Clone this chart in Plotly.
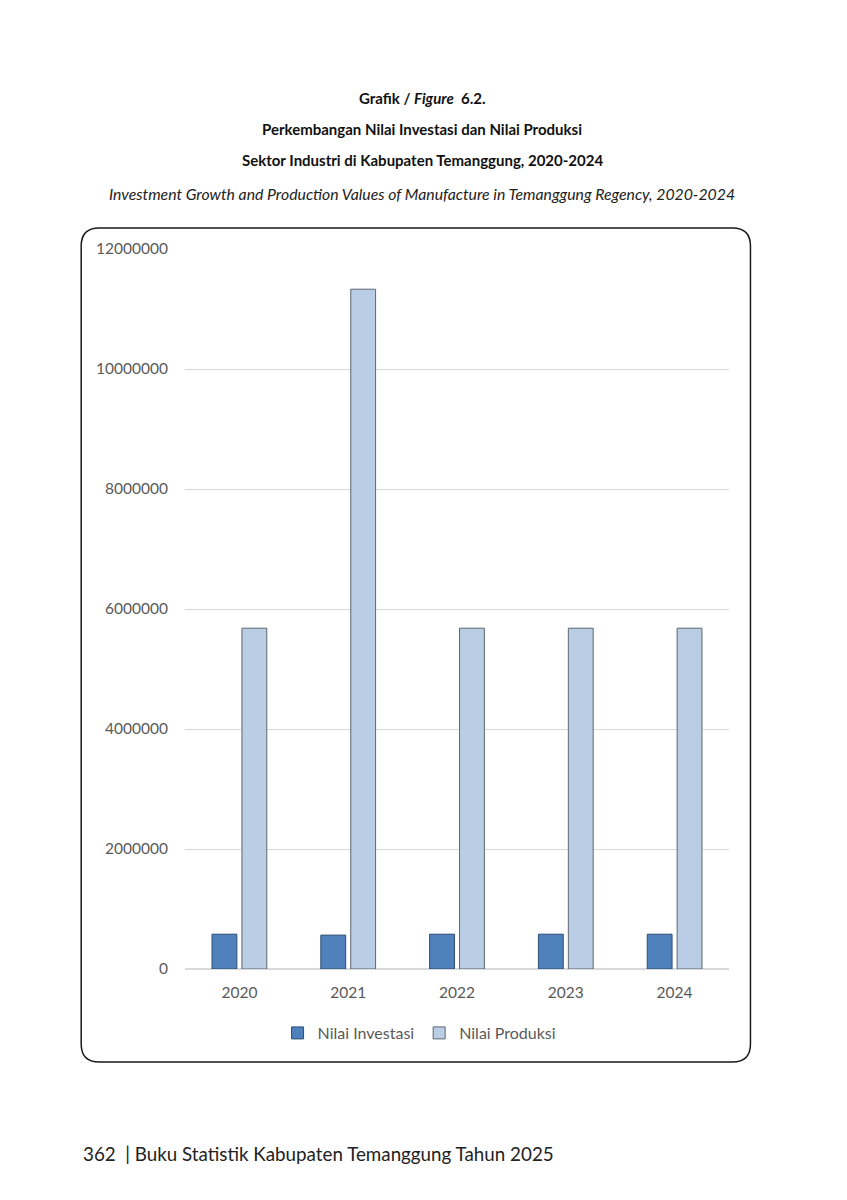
import plotly.graph_objects as go

years = ["2020", "2021", "2022", "2023", "2024"]
nilai_investasi = [580000, 565000, 580000, 580000, 580000]
nilai_produksi = [5680000, 11330000, 5680000, 5680000, 5680000]
y_ticks = [0, 2000000, 4000000, 6000000, 8000000, 10000000, 12000000]

OFF = 8  # page body margin
W, H = 847 - OFF, 1200 - OFF
L, R, T, B = 184.5 - OFF, 729.5 - OFF, 249 - OFF, 969 - OFF  # plot area in figure pixels

def px(x):
    return (x - OFF - L) / (R - L)

def py(y):
    return (B - (y - OFF)) / (B - T)

FONT = "Lato"
fig = go.Figure()
fig.add_trace(go.Bar(x=years, y=nilai_investasi, name="Nilai Investasi",
                     marker=dict(color="#4f81bd", line=dict(color="#2c4d75", width=1))))
fig.add_trace(go.Bar(x=years, y=nilai_produksi, name="Nilai Produksi",
                     marker=dict(color="#b9cde5", line=dict(color="#5f6670", width=1))))

# rounded frame (page pixel coords)
x0, x1, y0, y1, r = 80.5, 751, 228, 1062, 18
rx, ry = r / (R - L), r / (B - T)
X0, X1, Y0, Y1 = px(x0), px(x1), py(y1), py(y0)
path = (f"M {X0+rx},{Y1} L {X1-rx},{Y1} Q {X1},{Y1} {X1},{Y1-ry} "
        f"L {X1},{Y0+ry} Q {X1},{Y0} {X1-rx},{Y0} L {X0+rx},{Y0} "
        f"Q {X0},{Y0} {X0},{Y0+ry} L {X0},{Y1-ry} Q {X0},{Y1} {X0+rx},{Y1} Z")
fig.add_shape(type="path", path=path, xref="paper", yref="paper",
              line=dict(color="#1a1a1a", width=1.5), layer="below")

anns = [
    ("<b>Grafik / <i>Figure</i>  6.2.</b>", 98, 15, "#111"),
    ("<b>Perkembangan Nilai Investasi dan Nilai Produksi</b>", 129, 15, "#111"),
    ("<b>Sektor Industri di Kabupaten Temanggung, 2020-2024</b>", 160, 15, "#111"),
    ("<i>Investment Growth and Production Values of Manufacture in Temanggung Regency, 2020-2024</i>", 193, 15.8, "#222"),
]
for text, y, size, col in anns:
    fig.add_annotation(text=text, x=px(422), y=py(y), xref="paper", yref="paper",
                       showarrow=False, xanchor="center", yanchor="middle",
                       font=dict(family=FONT, size=size, color=col))
fig.add_annotation(text="362  | Buku Statistik Kabupaten Temanggung Tahun 2025",
                   x=px(80), y=py(1153), xref="paper", yref="paper", showarrow=False,
                   xanchor="left", yanchor="middle",
                   font=dict(family=FONT, size=18.8, color="#222"))

fig.update_layout(
    width=W, height=H,
    margin=dict(l=L, r=W - R, t=T, b=H - B, pad=0),
    paper_bgcolor="white", plot_bgcolor="white",
    barmode="group", bargap=0.45, bargroupgap=0.17,
    font=dict(family=FONT, color="#595959", size=15),
    showlegend=True,
    legend=dict(orientation="h", x=px(419), xanchor="center", y=py(1033), yanchor="middle",
                font=dict(family=FONT, size=16, color="#595959"), itemwidth=30,
                traceorder="normal"),
    xaxis=dict(showgrid=False, showline=False, ticks="", ticklabelstandoff=12,
               tickfont=dict(size=15.5, color="#595959")),
    yaxis=dict(range=[0, 12000000], tickvals=y_ticks, ticktext=[str(v) for v in y_ticks],
               showgrid=True, gridcolor="#d9d9d9", gridwidth=1, zeroline=True,
               zerolinecolor="#d9d9d9", zerolinewidth=1.5, showline=False,
               ticks="", ticklabelstandoff=16, tickfont=dict(size=15.5, color="#595959")),
)
fig.write_html("out.html")
